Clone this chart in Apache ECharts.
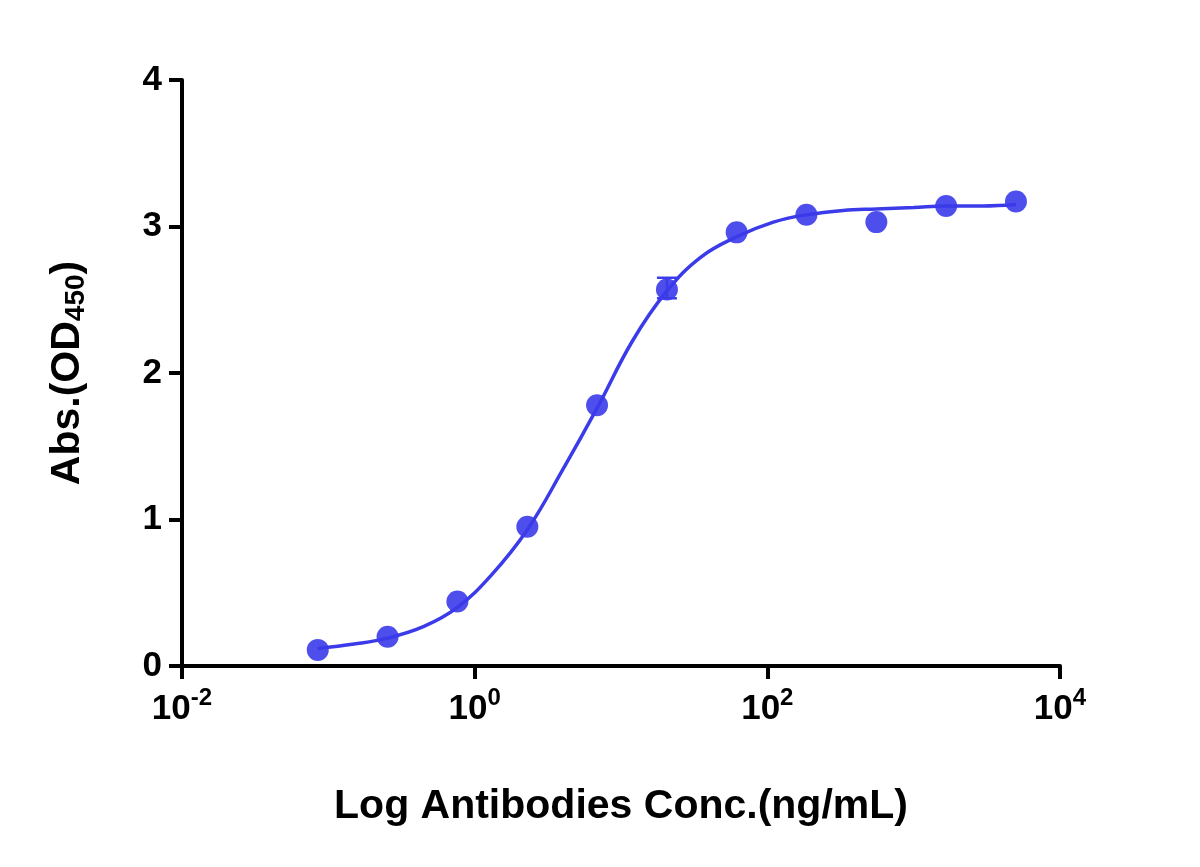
<!DOCTYPE html>
<html><head><meta charset="utf-8">
<script src="https://cdn.jsdelivr.net/npm/echarts@6/dist/echarts.min.js"></script>
<style>html,body{margin:0;padding:0;background:#fff}#c{width:1200px;height:867px}</style>
</head><body><div id="c"></div>
<script>
const conc = [0.0847, 0.254, 0.762, 2.29, 6.86, 20.6, 61.7, 185, 556, 1667, 5000];
const absVals = [0.11, 0.20, 0.44, 0.95, 1.78, 2.57, 2.96, 3.08, 3.03, 3.14, 3.17];
const errLow = [null, null, null, null, null, 2.51, null, null, null, null, null];
const errHigh = [null, null, null, null, null, 2.65, null, null, null, null, null];
const curveX = [0.0847, 0.15, 0.254, 0.45, 0.762, 1.3, 2.29, 4, 6.86, 12, 20.6, 35, 61.7, 110, 185, 330, 556, 1000, 1667, 3000, 5000];
const curveY = [0.12, 0.15, 0.19, 0.27, 0.40, 0.62, 0.93, 1.34, 1.76, 2.22, 2.56, 2.79, 2.93, 3.03, 3.08, 3.11, 3.12, 3.13, 3.14, 3.14, 3.15];
const xTicks = [0.01, 1, 100, 10000];
const yTicks = [0, 1, 2, 3, 4];
const blue = '#3b3bea';
const font = 'Liberation Sans, Arial, sans-serif';
const chart = echarts.init(document.getElementById('c'));
chart.setOption({
  animation: false,
  grid: {left: 182, right: 140, top: 80, bottom: 201},
  xAxis: {
    type: 'log', logBase: 10, min: xTicks[0], max: xTicks[xTicks.length-1], interval: 2,
    axisLine: {lineStyle: {color: '#000', width: 4}},
    axisTick: {length: 13, lineStyle: {color: '#000', width: 4}},
    minorTick: {show: false}, splitLine: {show: false},
    axisLabel: {
      margin: 20, color: '#000',
      formatter: v => '{b|10}{s|' + Math.round(Math.log10(v)) + '}',
      rich: {b: {fontSize: 35, fontWeight: 'bold', fontFamily: font, color: '#000'},
             s: {fontSize: 24, fontWeight: 'bold', fontFamily: font, color: '#000', padding: [0, 0, 22, 0]}}
    },
    name: 'Log Antibodies Conc.(ng/mL)', nameLocation: 'middle', nameGap: 120,
    nameTextStyle: {fontSize: 41, fontWeight: 'bold', fontFamily: font, color: '#000'}
  },
  yAxis: {
    type: 'value', min: 0, max: 4, interval: 1,
    axisLine: {show: true, lineStyle: {color: '#000', width: 4}},
    axisTick: {show: true, length: 13, lineStyle: {color: '#000', width: 4}},
    splitLine: {show: false},
    axisLabel: {margin: 20, fontSize: 35, fontWeight: 'bold', fontFamily: font, color: '#000'},
    name: 'Abs.(OD{sub|450})', nameLocation: 'middle', nameGap: 92, nameRotate: 90,
    nameTextStyle: {fontSize: 41, fontWeight: 'bold', fontFamily: font, color: '#000',
      rich: {sub: {fontSize: 28, fontWeight: 'bold', fontFamily: font, color: '#000', padding: [16, 0, 0, 0]}}}
  },
  series: [
    {type: 'line', data: curveX.map((x, i) => [x, curveY[i]]), smooth: 0.4, showSymbol: false,
     lineStyle: {color: blue, width: 3.5}, z: 2},
    {type: 'scatter', data: conc.map((x, i) => [x, absVals[i]]), symbolSize: 22,
     itemStyle: {color: blue, opacity: 0.9}, z: 3},
    {type: 'custom', z: 4,
     data: conc.map((x, i) => [x, errLow[i], errHigh[i]]).filter(d => d[1] !== null),
     renderItem: (params, api) => {
       const lo = api.coord([api.value(0), api.value(1)]);
       const hi = api.coord([api.value(0), api.value(2)]);
       const w = 10;
       const st = {stroke: blue, lineWidth: 2.5};
       return {type: 'group', children: [
         {type: 'line', shape: {x1: lo[0], y1: lo[1], x2: hi[0], y2: hi[1]}, style: st},
         {type: 'line', shape: {x1: lo[0]-w, y1: lo[1], x2: lo[0]+w, y2: lo[1]}, style: st},
         {type: 'line', shape: {x1: hi[0]-w, y1: hi[1], x2: hi[0]+w, y2: hi[1]}, style: st}
       ]};
     }}
  ]
});
</script></body></html>
